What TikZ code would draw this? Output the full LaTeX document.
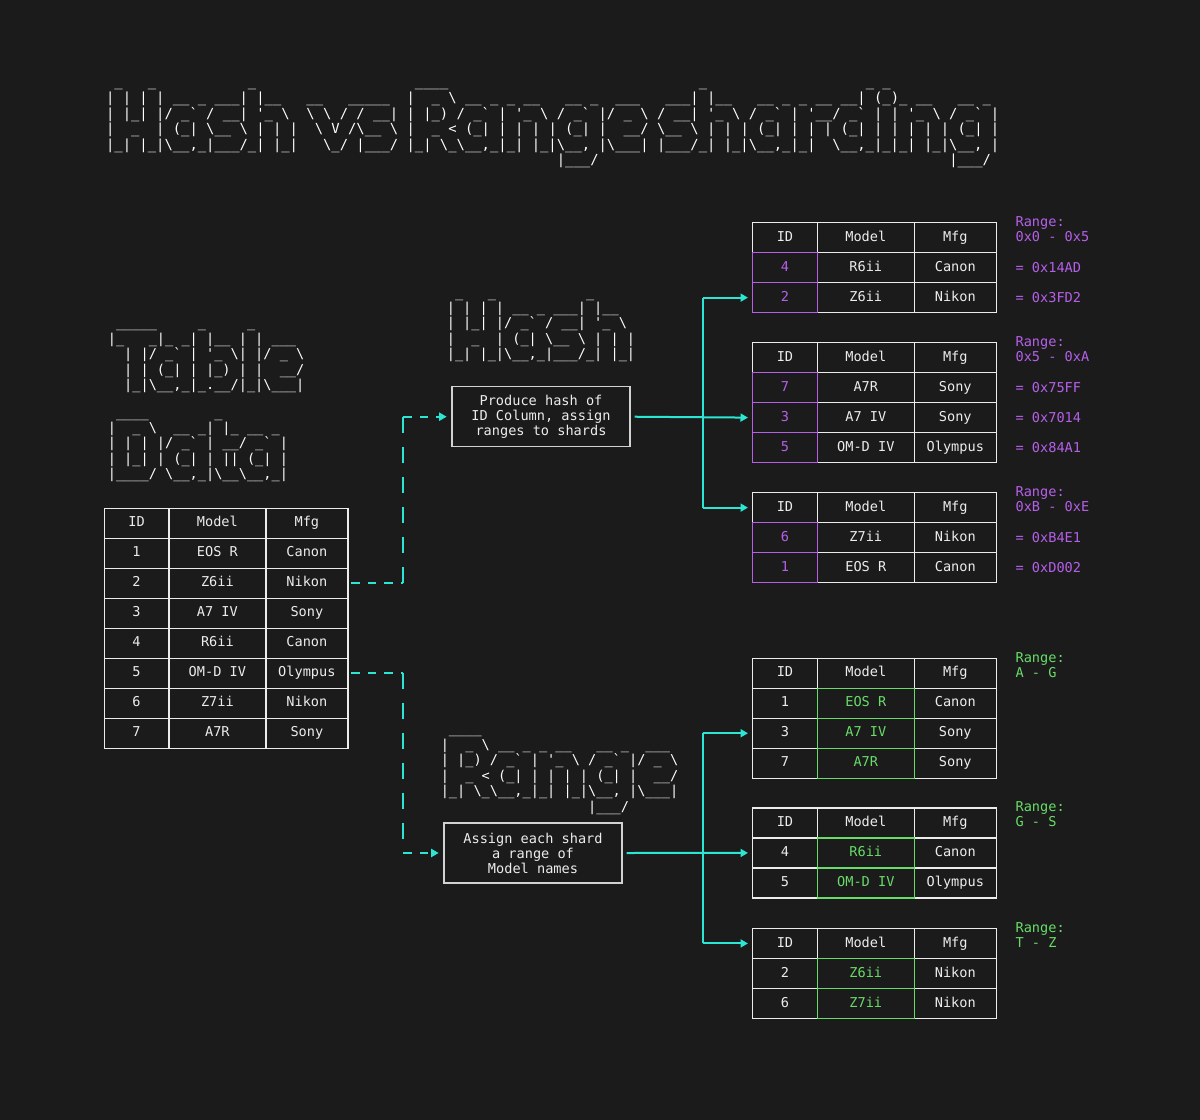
\documentclass[tikz,border=0pt]{standalone}
\usepackage{fontspec}
\setmonofont{DejaVu Sans Mono}
\usepackage{tikz}
\usetikzlibrary{positioning,matrix,arrows.meta}
\usepackage{xcolor}
\definecolor{bgdark}{RGB}{27,27,27}
\definecolor{linewhite}{RGB}{236,236,236}
\definecolor{artwhite}{RGB}{255,255,255}
\definecolor{boxgray}{RGB}{210,210,210}
\definecolor{flowcyan}{RGB}{44,229,210}
\definecolor{hashpurple}{RGB}{182,96,234}
\definecolor{rangegreen}{RGB}{104,220,104}

\newcommand{\bsl}{\textbackslash}
\newcommand{\artgap}[1]{\hspace*{#1\fontcharwd\font`\_}}
\newcommand{\titlefont}{\ttfamily\fontsize{10.4pt}{11.6pt}\selectfont}
\newcommand{\artfont}{\ttfamily\fontsize{10.2pt}{11.6pt}\selectfont}
\newcommand{\bodyfont}{\ttfamily\fontsize{10.2pt}{11.25pt}\selectfont}

\tikzset{
	art/.style={anchor=base west, inner sep=0pt, text=artwhite, font=\artfont},
	shardtable/.style={matrix of nodes, anchor=north west, inner sep=0pt,
		row sep=-1pt, column sep=-1pt,
		nodes={draw=linewhite, line width=1pt, outer sep=0pt, inner sep=0pt,
			minimum height=22.5pt, text height=6.6pt, text depth=1.2pt},
		column 1/.style={nodes={minimum width=48.5pt}},
		column 2/.style={nodes={minimum width=72.75pt}},
		column 3/.style={nodes={minimum width=61.5pt}}},
	hashid/.style={text=hashpurple},
	rangemodel/.style={text=rangegreen},
	idbox/.style={draw=hashpurple, line width=1pt},
	modelbox/.style={draw=rangegreen, line width=1pt},
	hashnote/.style={text=hashpurple, align=left, inner sep=0pt},
	rangenote/.style={text=rangegreen, align=left, inner sep=0pt},
	stepbox/.style={draw=boxgray, line width=1pt, minimum width=133.5pt,
		minimum height=45pt, inner sep=0pt, align=center},
	flowline/.style={draw=flowcyan, line width=1.5pt},
	flowtip/.style={-{Triangle[length=5.6pt,width=6pt]}, shorten >=3.5pt},
	flow/.style={flowline, flowtip},
	hdash/.style={flowline, dash pattern=on 6.2pt off 6.2pt},
	vdash/.style={flowline, dash pattern=on 12pt off 10.5pt},
}

\begin{document}
\begin{tikzpicture}[x=0.75pt,y=-0.75pt,font=\bodyfont,text=linewhite]
\fill[bgdark] (0,0) rectangle (1200,1120);
\useasboundingbox (0,0) rectangle (1200,1120);

\node[art, font=\titlefont] (title) at (105.8,87) {\begin{tabular}[t]{@{}l@{}}
~\_~~~\_\artgap{11}\_\artgap{19}\_\_\_\_\artgap{30}\_\artgap{19}\_~\_\\
|~|~|~|~\_\_~\_~\_\_\_|~|\_\_~~~\_\_~~~\_\_\_\_\_~~|~~\_~\bsl~\_\_~\_~\_~\_\_~~~\_\_~\_~~\_\_\_~~~\_\_\_|~|\_\_~~~\_\_~\_~\_~\_\_~\_\_|~(\_)\_~\_\_~~~\_\_~\_\\
|~|\_|~|/~\_`~/~\_\_|~'\_~\bsl~~\bsl~\bsl~/~/~\_\_|~|~|\_)~/~\_`~|~'\_~\bsl~/~\_`~|/~\_~\bsl~/~\_\_|~'\_~\bsl~/~\_`~|~'\_\_/~\_`~|~|~'\_~\bsl~/~\_`~|\\
|~~\_~~|~(\_|~\bsl\_\_~\bsl~|~|~|~~\bsl~V~/\bsl\_\_~\bsl~|~~\_~<~(\_|~|~|~|~|~(\_|~|~~\_\_/~\bsl\_\_~\bsl~|~|~|~(\_|~|~|~|~(\_|~|~|~|~|~|~(\_|~|\\
|\_|~|\_|\bsl\_\_,\_|\_\_\_/\_|~|\_|~~~\bsl\_/~|\_\_\_/~|\_|~\bsl\_\bsl\_\_,\_|\_|~|\_|\bsl\_\_,~|\bsl\_\_\_|~|\_\_\_/\_|~|\_|\bsl\_\_,\_|\_|~~\bsl\_\_,\_|\_|\_|~|\_|\bsl\_\_,~|\\
\artgap{54}|\_\_\_/\artgap{42}|\_\_\_/
\end{tabular}};

\node[art] (tableart) at (107.6,327.7) {\begin{tabular}[t]{@{}l@{}}
~\_\_\_\_\_~~~~~\_~~~~~\_\\
|\_~~~\_|\_~\_|~|\_\_~|~|~\_\_\_\\
~~|~|/~\_`~|~'\_~\bsl|~|/~\_~\bsl\\
~~|~|~(\_|~|~|\_)~|~|~~\_\_/\\
~~|\_|\bsl\_\_,\_|\_.\_\_/|\_|\bsl\_\_\_|
\end{tabular}};

\node[art] (dataart) at (107.6,417) {\begin{tabular}[t]{@{}l@{}}
~\_\_\_\_\artgap{8}\_\\
|~~\_~\bsl~~\_\_~\_|~|\_~\_\_~\_\\
|~|~|~|/~\_`~|~\_\_/~\_`~|\\
|~|\_|~|~(\_|~|~||~(\_|~|\\
|\_\_\_\_/~\bsl\_\_,\_|\bsl\_\_\bsl\_\_,\_|
\end{tabular}};

\node[art] (hashart) at (446.6,297) {\begin{tabular}[t]{@{}l@{}}
~\_~~~\_\artgap{11}\_\\
|~|~|~|~\_\_~\_~\_\_\_|~|\_\_\\
|~|\_|~|/~\_`~/~\_\_|~'\_~\bsl\\
|~~\_~~|~(\_|~\bsl\_\_~\bsl~|~|~|\\
|\_|~|\_|\bsl\_\_,\_|\_\_\_/\_|~|\_|
\end{tabular}};

\node[art] (rangeart) at (440.5,733.7) {\begin{tabular}[t]{@{}l@{}}
~\_\_\_\_\\
|~~\_~\bsl~\_\_~\_~\_~\_\_~~~\_\_~\_~~\_\_\_\\
|~|\_)~/~\_`~|~'\_~\bsl~/~\_`~|/~\_~\bsl\\
|~~\_~<~(\_|~|~|~|~|~(\_|~|~~\_\_/\\
|\_|~\bsl\_\bsl\_\_,\_|\_|~|\_|\bsl\_\_,~|\bsl\_\_\_|\\
\artgap{18}|\_\_\_/
\end{tabular}};

\matrix (data) [shardtable] at (103.3,507.3) {
	ID & Model & Mfg \\
	1 & EOS R & Canon \\
	2 & Z6ii & Nikon \\
	3 & A7 IV & Sony \\
	4 & R6ii & Canon \\
	5 & OM-D IV & Olympus \\
	6 & Z7ii & Nikon \\
	7 & A7R & Sony \\
};

\node[stepbox] (hashbox) at (541,416.7) {Produce hash of\\ID Column, assign\\ranges to shards};
\node[stepbox] (rangebox) at (533,853) {Assign each shard\\a range of\\Model names};

\matrix (hashA) [shardtable] at (751.7,221.7) {
	ID & Model & Mfg \\
	|[hashid]| 4 & R6ii & Canon \\
	|[hashid]| 2 & Z6ii & Nikon \\
};
\matrix (hashB) [shardtable] at (751.7,341.7) {
	ID & Model & Mfg \\
	|[hashid]| 7 & A7R & Sony \\
	|[hashid]| 3 & A7 IV & Sony \\
	|[hashid]| 5 & OM-D IV & Olympus \\
};
\matrix (hashC) [shardtable] at (751.7,491.7) {
	ID & Model & Mfg \\
	|[hashid]| 6 & Z7ii & Nikon \\
	|[hashid]| 1 & EOS R & Canon \\
};
\matrix (rangeA) [shardtable] at (751.7,657.3) {
	ID & Model & Mfg \\
	1 & |[rangemodel]| EOS R & Canon \\
	3 & |[rangemodel]| A7 IV & Sony \\
	7 & |[rangemodel]| A7R & Sony \\
};
\matrix (rangeB) [shardtable] at (751.7,807) {
	ID & Model & Mfg \\
	4 & |[rangemodel]| R6ii & Canon \\
	5 & |[rangemodel]| OM-D IV & Olympus \\
};
\matrix (rangeC) [shardtable] at (751.7,927.5) {
	ID & Model & Mfg \\
	2 & |[rangemodel]| Z6ii & Nikon \\
	6 & |[rangemodel]| Z7ii & Nikon \\
};

\foreach \tab/\last in {hashA/3,hashB/4,hashC/3}
	\foreach \r in {2,...,\last}
		\draw[idbox] (\tab-\r-1.north west) rectangle (\tab-\r-1.south east);
\foreach \tab/\last in {rangeA/4,rangeB/3,rangeC/3}
	\foreach \r in {2,...,\last}
		\draw[modelbox] (\tab-\r-2.north west) rectangle (\tab-\r-2.south east);

\node[hashnote, right=14.25pt of hashA-1-3, yshift=6.3pt] (hashAlabel) {Range:\\0x0 - 0x5};
\node[hashnote, right=14.25pt of hashA-2-3] (hashAfirst) {= 0x14AD};
\node[hashnote, right=14.25pt of hashA-3-3] (hashAsecond) {= 0x3FD2};
\node[hashnote, right=14.25pt of hashB-1-3, yshift=6.3pt] (hashBlabel) {Range:\\0x5 - 0xA};
\node[hashnote, right=14.25pt of hashB-2-3] (hashBfirst) {= 0x75FF};
\node[hashnote, right=14.25pt of hashB-3-3] (hashBsecond) {= 0x7014};
\node[hashnote, right=14.25pt of hashB-4-3] (hashBthird) {= 0x84A1};
\node[hashnote, right=14.25pt of hashC-1-3, yshift=6.3pt] (hashClabel) {Range:\\0xB - 0xE};
\node[hashnote, right=14.25pt of hashC-2-3] (hashCfirst) {= 0xB4E1};
\node[hashnote, right=14.25pt of hashC-3-3] (hashCsecond) {= 0xD002};
\node[rangenote, right=14.25pt of rangeA-1-3, yshift=6.3pt] (rangeAlabel) {Range:\\A - G};
\node[rangenote, right=14.25pt of rangeB-1-3, yshift=6.3pt] (rangeBlabel) {Range:\\G - S};
\node[rangenote, right=14.25pt of rangeC-1-3, yshift=6.3pt] (rangeClabel) {Range:\\T - Z};

\coordinate (dashx) at (403.3,0);
\coordinate (busx) at (703,0);

\draw[hdash, shorten <=2.5pt] (data-3-3.east) -- (data-3-3.east -| dashx);
\draw[vdash] (data-3-3.east -| dashx) -- (hashbox.west -| dashx);
\draw[hdash, flowtip] (hashbox.west -| dashx) -- (hashbox.west);
\draw[hdash, shorten <=2.5pt] (data-6-3.east) -- (data-6-3.east -| dashx);
\draw[vdash] (data-6-3.east -| dashx) -- (rangebox.west -| dashx);
\draw[hdash, flowtip] (rangebox.west -| dashx) -- (rangebox.west);

\draw[flow, shorten <=3pt] (hashbox.east) -- (hashB-3-1.west);
\draw[flowline] (hashA-3-1.west -| busx) -- (hashC-1-1.west -| busx);
\draw[flow] (hashA-3-1.west -| busx) -- (hashA-3-1.west);
\draw[flow] (hashC-1-1.west -| busx) -- (hashC-1-1.west);

\draw[flow, shorten <=3pt] (rangebox.east) -- (rangeB-2-1.west);
\draw[flowline] (rangeA-3-1.west -| busx) -- (rangeC-1-1.west -| busx);
\draw[flow] (rangeA-3-1.west -| busx) -- (rangeA-3-1.west);
\draw[flow] (rangeC-1-1.west -| busx) -- (rangeC-1-1.west);

\end{tikzpicture}
\end{document}
